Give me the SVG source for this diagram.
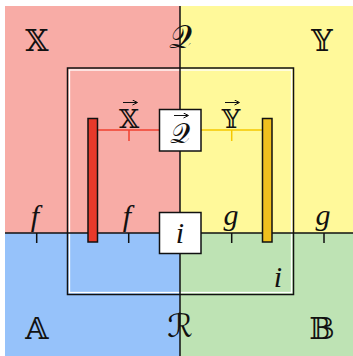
<svg xmlns="http://www.w3.org/2000/svg" width="353" height="356" viewBox="0 0 353 356">
<defs>
<marker id="ah" viewBox="0 0 6 6" refX="5" refY="3" markerWidth="6" markerHeight="6" markerUnits="userSpaceOnUse" orient="auto"><path d="M0.5 0.5L5.5 3L0.5 5.5" fill="none" stroke="#111" stroke-width="1"/></marker>
</defs>
<style>
.ds{font-family:"DejaVu Serif","DejaVu Sans",serif;font-size:30px;text-anchor:middle;fill:#111}
.dsm{font-family:"DejaVu Serif","DejaVu Sans",serif;font-size:26px;text-anchor:middle;fill:#111}
.sc{font-family:"DejaVu Sans","DejaVu Serif",serif;font-size:32px;text-anchor:middle;fill:#111}
.scm{font-family:"DejaVu Sans","DejaVu Serif",serif;font-size:28px;text-anchor:middle;fill:#111}
.it{font-family:"Liberation Serif",serif;font-style:italic;font-size:30px;text-anchor:middle;fill:#111}
.ln{stroke:#111;stroke-width:1.5;fill:none}
.box{fill:#fff;stroke:#111;stroke-width:1.5}
.vec{stroke:#111;stroke-width:1;fill:none;marker-end:url(#ah)}
</style>
<rect x="5" y="6" width="175" height="227" fill="#F8ACA6"/>
<rect x="180" y="6" width="173" height="227" fill="#FFF99A"/>
<rect x="5" y="233" width="175" height="123" fill="#96C2FA"/>
<rect x="180" y="233" width="173" height="123" fill="#BEE3B4"/>
<g id="frame">
<rect x="67.5" y="68" width="226" height="226.5" class="ln"/>
<rect x="69.5" y="70" width="222" height="222.5" fill="none" stroke="#fff" stroke-width="1.3"/>
</g>
<g id="connectors">
<line x1="180" y1="6" x2="180" y2="356" class="ln"/>
<line x1="5" y1="233" x2="353" y2="233" class="ln"/>
<path d="M36.7 233V243M128.7 233V243M231.7 233V243M324 233V243" class="ln"/>
<path d="M98 130H159.5M129 130V141" stroke="#F04030" stroke-width="1.5" fill="none"/>
<path d="M201 130H262.5M231.7 130V141" stroke="#F5C800" stroke-width="1.5" fill="none"/>
</g>
<g id="barX"><rect x="88" y="118.5" width="9.5" height="123.5" fill="#E8392A" stroke="#111" stroke-width="1.5"/></g>
<g id="barY"><rect x="262.5" y="118.5" width="9.5" height="123.5" fill="#F0C01E" stroke="#111" stroke-width="1.5"/></g>
<g id="boxQ"><rect x="159.5" y="109.5" width="41.5" height="41.5" class="box"/><text x="180" y="143" class="scm">𝒬</text><path d="M174 115.5H188" class="vec"/></g>
<g id="boxI"><rect x="159.5" y="212.5" width="41.5" height="41" class="box"/><text x="180" y="243" class="it">i</text></g>
<g id="labels">
<text x="37" y="51" class="ds">𝕏</text>
<text x="180" y="48" class="sc">𝒬</text>
<text x="322" y="51" class="ds">𝕐</text>
<text x="129" y="128" class="dsm">𝕏</text><path d="M123 102.5H137" class="vec"/>
<text x="231" y="128" class="dsm">𝕐</text><path d="M225 102.5H239" class="vec"/>
<text x="35" y="226" class="it">f</text>
<text x="127" y="226" class="it">f</text>
<text x="231" y="225" class="it">g</text>
<text x="323" y="225" class="it">g</text>
<text x="278" y="287" class="it">i</text>
<text x="37" y="339" class="ds">𝔸</text>
<text x="180" y="337" class="sc">ℛ</text>
<text x="322" y="339" class="ds">𝔹</text>
</g>
</svg>
